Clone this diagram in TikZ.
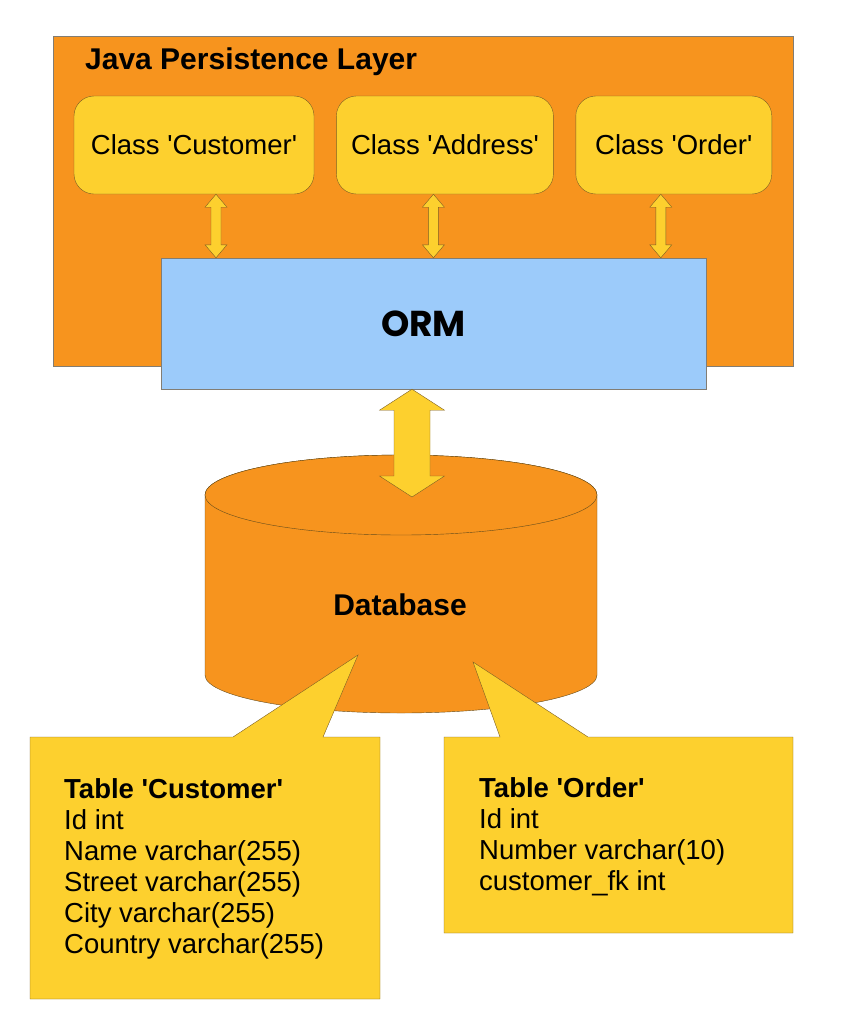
\documentclass[tikz,border=0pt]{standalone}
\usepackage{fontspec}
\setmainfont{Liberation Sans}
\newfontfamily\ormfont{Poppins}
\usetikzlibrary{positioning,calc}

\definecolor{layerorange}{RGB}{247,148,30}
\definecolor{classyellow}{RGB}{253,208,46}
\definecolor{ormblue}{RGB}{156,203,250}
\definecolor{edgebrown}{RGB}{125,95,35}
\definecolor{edgegrey}{RGB}{130,125,115}

\newcommand{\sq}{\textquotesingle}
% block arrow with a head at both ends, from #1 down to #2
\newcommand{\twoway}[5]{%
  \draw[dblarrow] let \p1=(#1), \p2=(#2) in
    (\x1,\y1) -- (\x1+#4pt,\y1-#5pt) -- (\x1+#3pt,\y1-#5pt) -- (\x1+#3pt,\y2+#5pt)
    -- (\x1+#4pt,\y2+#5pt) -- (\x1,\y2) -- (\x1-#4pt,\y2+#5pt) -- (\x1-#3pt,\y2+#5pt)
    -- (\x1-#3pt,\y1-#5pt) -- (\x1-#4pt,\y1-#5pt) -- cycle;}

\begin{document}
\begin{tikzpicture}[x=1pt,y=-1pt,
    layer/.style={draw=edgegrey, fill=layerorange, minimum width=740pt, minimum height=330pt},
    classbox/.style={draw=edgebrown, fill=classyellow, rounded corners=20pt, minimum height=98pt,
      font=\fontsize{27.5}{31}\selectfont},
    ormbox/.style={draw=edgegrey, fill=ormblue, minimum width=545pt, minimum height=131pt,
      font=\ormfont\fontsize{36}{40}\selectfont\bfseries},
    dblarrow/.style={draw=edgebrown, fill=classyellow, line join=miter},
    cyl/.style={draw=edgebrown!80!black, fill=layerorange},
    tabbox/.style={draw=edgebrown, fill=classyellow},
    tabtext/.style={align=left, inner sep=0pt, anchor=north west, font=\fontsize{27.5}{31}\selectfont}]
    \useasboundingbox (0,0) rectangle (846,1034);

    % persistence layer
    \node[layer] (layer) at (423,201) {};
    \node[anchor=base west, inner sep=0pt, font=\fontsize{30}{36}\selectfont\bfseries] (title) at (85,69) {Java Persistence Layer};
    \node[classbox, minimum width=240pt] (cust) at (194,145) {Class \sq Customer\sq};
    \node[classbox, minimum width=217pt, right=22pt of cust] (addr) {Class \sq Address\sq};
    \node[classbox, minimum width=196pt, right=22pt of addr] (order) {Class \sq Order\sq};
    \node[ormbox] (orm) at (433.5,323.5) {ORM\kern20pt};

    \coordinate (c1) at ([xshift=22pt]cust.south);
    \coordinate (c2) at ([xshift=-11.5pt]addr.south);
    \coordinate (c3) at ([xshift=-13pt]order.south);
    \twoway{c1}{c1 |- orm.north}{5}{11}{13}
    \twoway{c2}{c2 |- orm.north}{5}{11}{13}
    \twoway{c3}{c3 |- orm.north}{5}{11}{13}

    % database
    \draw[cyl] (205,495) -- (205,675) arc[start angle=180, end angle=0, x radius=196, y radius=38]
      -- (597,495) arc[start angle=0, end angle=-180, x radius=196, y radius=40] -- cycle;
    \draw[cyl] (401,495) ellipse[x radius=196, y radius=40];
    \node[font=\fontsize{30}{36}\selectfont\bfseries] (db) at (400,605) {Database};
    \coordinate (ormout) at ([xshift=-21.5pt]orm.south);
    \coordinate (dbtop) at (412,497);
    \twoway{ormout}{dbtop}{18}{32.5}{21}

    % tables
    \coordinate (custtip) at (358,655);
    \coordinate (ordertip) at (473,662);
    \draw[tabbox] (30,737) -- (233,737) -- (custtip) -- (323,737) -- (380,737)
      -- (380,999) -- (30,999) -- cycle;
    \draw[tabbox] (444,737) -- (500,737) -- (ordertip) -- (588,737) -- (793,737)
      -- (793,933) -- (444,933) -- cycle;
    \node[tabtext] (custtab) at (64,778) {\textbf{Table \sq Customer\sq}\\Id int\\Name varchar(255)\\
      Street varchar(255)\\City varchar(255)\\Country varchar(255)};
    \node[tabtext] (ordertab) at (479,777) {\textbf{Table \sq Order\sq}\\Id int\\Number varchar(10)\\
      customer\_fk int};
\end{tikzpicture}
\end{document}
